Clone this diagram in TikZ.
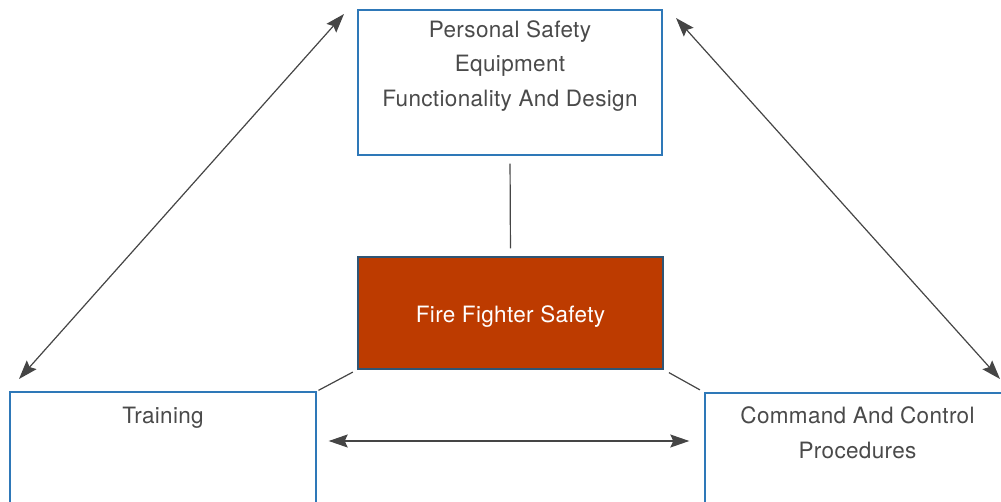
\documentclass[tikz,border=0pt]{standalone}
\usepackage{fontspec}
\setmainfont{TeX Gyre Heros}[LetterSpace=1.5]
\usetikzlibrary{arrows.meta}
\definecolor{boxblue}{HTML}{2E78B8}
\definecolor{txtgray}{HTML}{4A4A4A}
\definecolor{linegray}{HTML}{454545}
\definecolor{firered}{HTML}{BD3B00}
\definecolor{darkedge}{HTML}{2F5575}
\tikzset{
  framebox/.style={draw=boxblue, line width=1.4pt, fill=white, inner sep=0pt},
  lbl/.style={text=txtgray, font=\fontsize{22.5}{34.5}\selectfont, align=center, inner sep=0pt, anchor=base},
  conn/.style={draw=linegray, line width=1.2pt},
  biarrow/.style={conn, {Stealth[length=19pt,width=13pt,inset=3pt]}-{Stealth[length=19pt,width=13pt,inset=3pt]}}
}
\begin{document}
\begin{tikzpicture}[x=1pt,y=-1pt]
\useasboundingbox (0,0) rectangle (1001,501);
\clip (0,0) rectangle (1001,501);
% boxes
\node[framebox, minimum width=304pt, minimum height=145pt] (pse) at (510,82.5) {};
\node[framebox, minimum width=306pt, minimum height=160pt] (trn) at (163,472) {};
\node[framebox, minimum width=305pt, minimum height=160pt] (cac) at (857.5,473) {};
\node[draw=darkedge, fill=firered, line width=1.4pt, inner sep=0pt, minimum width=305pt, minimum height=112pt] (ffs) at (510.5,313) {};
% texts (base anchor = baseline of last line)
\node[lbl] (psetxt) at (510,106) {Personal Safety\\Equipment\\Functionality And Design};
\node[lbl] (trntxt) at (163,423) {Training};
\node[lbl] (cactxt) at (857.5,458) {Command And Control\\Procedures};
\node[lbl, text=white] (ffstxt) at (510.5,322) {Fire Fighter Safety};
% connectors
\draw[conn, shorten <=8pt, shorten >=8pt] (pse.south) -- (ffs.north);
\draw[conn, shorten <=5pt, shorten >=2pt] (ffs.south west) -- (trn.north east);
\draw[conn, shorten <=6pt, shorten >=5pt] (ffs.south east) -- (cac.north west);
\draw[biarrow, shorten <=12pt, shorten >=15pt] (trn.east |- 0,441) -- (cac.west |- 0,441);
\coordinate (a1) at (19,379);
\coordinate (a2) at (344,14);
\coordinate (b1) at (676,18);
\coordinate (b2) at (1000,379);
\draw[biarrow] (a1) -- (a2);
\draw[biarrow] (b1) -- (b2);
\end{tikzpicture}
\end{document}
